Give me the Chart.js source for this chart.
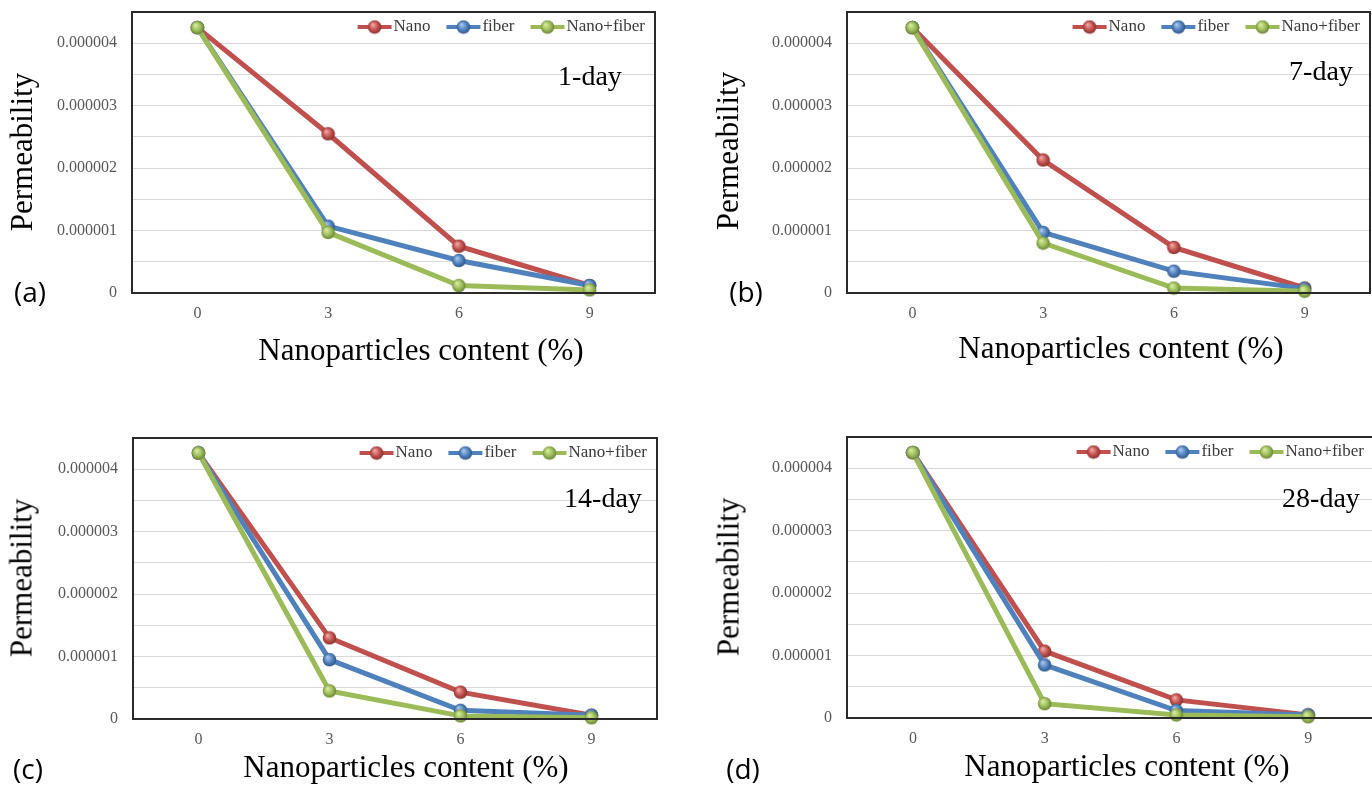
<!DOCTYPE html>
<html>
<head>
<meta charset="utf-8">
<script src="https://cdn.jsdelivr.net/npm/chart.js@4.4.0/dist/chart.umd.min.js"></script>
<style>
html,body{margin:0;padding:0;background:#fff;}
body{width:1372px;height:786px;overflow:hidden;position:relative;}
.panel{position:absolute;}
.panel canvas{display:block;}
.lbl{position:absolute;transform:translate(-50%,-50%);white-space:nowrap;color:#000;line-height:1;}
.serif{font-family:"Liberation Serif","DejaVu Serif",serif;}
.sans{font-family:"Open Sans","Liberation Sans",sans-serif;}
.rot{transform:translate(-50%,-50%) rotate(-90deg);}
</style>
</head>
<body>
<script>
// ---------------- DATA ----------------
const categories = ['0', '3', '6', '9'];
const seriesNames = ['Nano', 'fiber', 'Nano+fiber'];
const yTickValues = [0, 0.000001, 0.000002, 0.000003, 0.000004];
const yTickLabels = ['0', '0.000001', '0.000002', '0.000003', '0.000004'];
const panelLetters = ['(a)', '(b)', '(c)', '(d)'];
const ageLabels = ['1-day', '7-day', '14-day', '28-day'];
const xAxisTitle = 'Nanoparticles content (%)';
const yAxisTitle = 'Permeability';

const day1Nano      = [0.00000425, 0.00000255, 0.00000075, 0.00000012];
const day1Fiber     = [0.00000425, 0.00000107, 0.00000052, 0.00000012];
const day1NanoFiber = [0.00000425, 0.00000097, 0.00000012, 0.00000005];

const day7Nano      = [0.00000425, 0.00000213, 0.00000073, 0.00000008];
const day7Fiber     = [0.00000425, 0.00000097, 0.00000035, 0.00000007];
const day7NanoFiber = [0.00000425, 0.00000080, 0.00000008, 0.00000003];

const day14Nano      = [0.00000426, 0.00000130, 0.00000043, 0.00000006];
const day14Fiber     = [0.00000426, 0.00000095, 0.00000014, 0.00000006];
const day14NanoFiber = [0.00000426, 0.00000045, 0.00000005, 0.00000002];

const day28Nano      = [0.00000425, 0.00000107, 0.00000029, 0.00000005];
const day28Fiber     = [0.00000425, 0.00000085, 0.00000012, 0.00000005];
const day28NanoFiber = [0.00000425, 0.00000023, 0.00000005, 0.00000002];

// ---------------- STYLE / LAYOUT ----------------
const seriesColors = ['#C0504D', '#4F81BD', '#9BBB59'];
const seriesLight  = ['#f0a7a4', '#a9c6ec', '#d6ec9f'];
const seriesDark   = ['#7e2a28', '#2a4d7c', '#5f7a2c'];

const panels = [
  {series:[day1Nano, day1Fiber, day1NanoFiber], box:[0,0,680,380], yw:132, pr:25, pt:12, xh:87,
   yTitle:[21,152], xTitle:[421,349], letter:[30,291], age:[590,76]},
  {series:[day7Nano, day7Fiber, day7NanoFiber], box:[700,0,684,380], yw:147, pr:14, pt:10, xh:87,
   yTitle:[727,151], xTitle:[1121,347], letter:[746,291], age:[1321,71]},
  {series:[day14Nano, day14Fiber, day14NanoFiber], box:[0,420,680,366], yw:133, pr:23, pt:18, xh:67,
   yTitle:[21,578], xTitle:[406,766], letter:[28,768], age:[603,498]},
  {series:[day28Nano, day28Fiber, day28NanoFiber], box:[700,420,686,366], yw:147, pr:12, pt:17, xh:68,
   yTitle:[728,577], xTitle:[1127,765], letter:[743,768], age:[1321,498]}
];

function makeBall(i) {
  const c = document.createElement('canvas');
  c.width = 15; c.height = 15;
  const g = c.getContext('2d');
  const grad = g.createRadialGradient(5.5, 5, 0.5, 7.5, 7.5, 7.5);
  grad.addColorStop(0, seriesLight[i]);
  grad.addColorStop(0.55, seriesColors[i]);
  grad.addColorStop(1, seriesDark[i]);
  g.fillStyle = grad;
  g.beginPath(); g.arc(7.5, 7.5, 6.8, 0, Math.PI * 2); g.fill();
  return c;
}
const balls = seriesColors.map((_, i) => makeBall(i));

const boxPlugin = {
  id: 'boxPlugin',
  afterDraw(chart) {
    const {ctx, chartArea: a} = chart;
    ctx.save();
    ctx.strokeStyle = '#2a2a2a';
    ctx.lineWidth = 2;
    ctx.strokeRect(a.left, a.top, a.right - a.left, a.bottom - a.top);
    ctx.restore();
  },
  beforeDatasetsDraw(chart) {
    const {ctx, chartArea: a} = chart;
    ctx.save();
    ctx.strokeStyle = '#2a2a2a';
    ctx.lineWidth = 2;
    ctx.beginPath(); ctx.moveTo(a.left, a.bottom); ctx.lineTo(a.right, a.bottom); ctx.stroke();
    ctx.restore();
  }
};

const legendInside = {
  id: 'legendInside',
  afterDraw(chart) {
    const {ctx, chartArea: a} = chart;
    ctx.save();
    ctx.font = '17px "Liberation Serif"';
    ctx.textBaseline = 'middle';
    const lineLen = 34, gapText = 2, gapItem = 16;
    const ds = chart.data.datasets.slice().sort((p, q) => p.legendIndex - q.legendIndex);
    const items = ds.map(d => ({label: d.label, color: d.borderColor, ball: d.pointStyle, w: ctx.measureText(d.label).width}));
    const total = items.reduce((s, it) => s + lineLen + gapText + it.w, 0) + gapItem * (items.length - 1);
    let x = Math.min(a.right, chart.width - 2) - 10 - total;
    const y = a.top + 15;
    items.forEach(it => {
      ctx.strokeStyle = it.color; ctx.lineWidth = 4;
      ctx.beginPath(); ctx.moveTo(x, y); ctx.lineTo(x + lineLen, y); ctx.stroke();
      ctx.drawImage(it.ball, x + lineLen / 2 - it.ball.width / 2, y - it.ball.height / 2);
      x += lineLen + gapText;
      ctx.fillStyle = '#3a3a3a';
      ctx.fillText(it.label, x, y);
      x += it.w + gapItem;
    });
    ctx.restore();
  }
};

function addLabel(text, cls, pos, size) {
  const d = document.createElement('div');
  d.className = 'lbl ' + cls;
  d.textContent = text;
  d.style.left = pos[0] + 'px';
  d.style.top = pos[1] + 'px';
  d.style.fontSize = size + 'px';
  document.body.appendChild(d);
}

function zeroPad(s) {
  s.paddingTop = 0; s.paddingBottom = 0; s.paddingLeft = 0; s.paddingRight = 0;
}

panels.forEach((p, pi) => {
  const div = document.createElement('div');
  div.className = 'panel';
  div.style.left = p.box[0] + 'px'; div.style.top = p.box[1] + 'px';
  div.style.width = p.box[2] + 'px'; div.style.height = p.box[3] + 'px';
  const cv = document.createElement('canvas');
  cv.width = p.box[2]; cv.height = p.box[3];
  div.appendChild(cv);
  document.body.appendChild(div);

  const datasets = seriesNames.map((name, i) => ({
    label: name,
    legendIndex: i,
    data: p.series[i],
    borderColor: seriesColors[i],
    backgroundColor: seriesColors[i],
    borderWidth: 5,
    pointStyle: balls[i],
    pointRadius: 7,
    tension: 0,
    clip: false,
    order: 3 - i
  }));

  new Chart(cv, {
    type: 'line',
    data: {labels: categories, datasets},
    options: {
      responsive: false,
      animation: false,
      devicePixelRatio: 1,
      layout: {padding: {left: 0, top: p.pt, right: p.pr, bottom: 0}},
      plugins: {legend: {display: false}, tooltip: {enabled: false}},
      scales: {
        x: {
          type: 'category',
          offset: true,
          grid: {display: false, drawTicks: false},
          border: {display: false},
          ticks: {color: '#595959', font: {family: 'Liberation Serif', size: 16}, padding: 11},
          afterFit: s => { s.height = p.xh; zeroPad(s); }
        },
        y: {
          min: 0, max: 0.0000045,
          grid: {color: '#d9d9d9', lineWidth: 1, drawTicks: false},
          border: {display: false},
          ticks: {
            stepSize: 0.0000005,
            color: '#595959',
            font: {family: 'Liberation Serif', size: 16},
            padding: 15,
            callback: v => {
              const k = yTickValues.findIndex(t => Math.abs(t - v) < 1e-9);
              return k >= 0 ? yTickLabels[k] : '';
            }
          },
          afterFit: s => { s.width = p.yw; zeroPad(s); }
        }
      }
    },
    plugins: [boxPlugin, legendInside]
  });

  addLabel(yAxisTitle, 'serif rot', p.yTitle, 31);
  addLabel(xAxisTitle, 'serif', p.xTitle, 31);
  addLabel(panelLetters[pi], 'sans', p.letter, 28);
  addLabel(ageLabels[pi], 'serif', p.age, 28);
});
</script>
</body>
</html>
